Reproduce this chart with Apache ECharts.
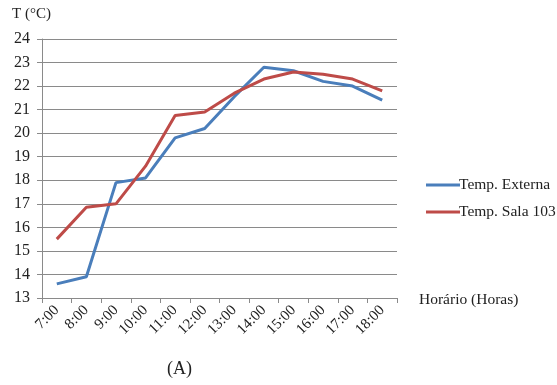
<!DOCTYPE html>
<html>
<head>
<meta charset="utf-8">
<script src="https://cdn.jsdelivr.net/npm/echarts@6/dist/echarts.min.js"></script>
<style>
  html, body { margin: 0; padding: 0; background: #fff; }
  #chart { width: 557px; height: 385px; }
</style>
</head>
<body>
<div id="chart"></div>
<script>
// Hourly temperature readings: outside air vs. room 103
const hours = ['7:00', '8:00', '9:00', '10:00', '11:00', '12:00', '13:00', '14:00', '15:00', '16:00', '17:00', '18:00'];
const tempExterna = [13.6, 13.9, 17.9, 18.1, 19.8, 20.2, 21.55, 22.8, 22.65, 22.2, 22.0, 21.4];
const tempSala103 = [15.5, 16.85, 17.0, 18.6, 20.75, 20.9, 21.7, 22.3, 22.6, 22.5, 22.3, 21.8];
const seriesNames = ['Temp. Externa', 'Temp. Sala 103'];

const serif = '"Liberation Serif", "DejaVu Serif", serif';
const gridColor = '#8a8a8a';

const chart = echarts.init(document.getElementById('chart'), null, { renderer: 'canvas' });
chart.setOption({
  animation: false,
  backgroundColor: '#ffffff',
  textStyle: { fontFamily: serif },
  grid: { left: 42, right: 160, top: 39, bottom: 87, containLabel: false },
  legend: {
    data: seriesNames,
    orient: 'vertical',
    left: 421,
    top: 172,
    itemWidth: 34,
    itemHeight: 3,
    itemGap: 11,
    icon: 'rect',
    textStyle: { fontFamily: serif, fontSize: 15.5, color: '#222', padding: [0, 0, 0, -6] }
  },
  graphic: [
    {
      type: 'text', left: 12, top: 7,
      style: { text: 'T (°C)', font: '15px ' + serif, fill: '#222' }
    },
    {
      type: 'text', left: 419, top: 292,
      style: { text: 'Horário (Horas)', font: '15.5px ' + serif, fill: '#222' }
    },
    {
      type: 'text', left: 167, top: 360,
      style: { text: '(A)', font: '18px ' + serif, fill: '#222' }
    }
  ],
  xAxis: {
    type: 'category',
    data: hours,
    boundaryGap: true,
    axisLine: { lineStyle: { color: gridColor, width: 1 } },
    axisTick: { show: true, length: 5, lineStyle: { color: gridColor } },
    axisLabel: {
      rotate: 45,
      margin: 10,
      interval: 0,
      fontFamily: serif,
      fontSize: 15,
      color: '#222'
    },
    splitLine: { show: false }
  },
  yAxis: {
    type: 'value',
    min: 13,
    max: 24,
    interval: 1,
    axisLine: { show: true, lineStyle: { color: gridColor, width: 1 } },
    axisTick: { show: true, length: 5, lineStyle: { color: gridColor } },
    axisLabel: { margin: 12, fontFamily: serif, fontSize: 16, color: '#222' },
    splitLine: { show: true, lineStyle: { color: gridColor, width: 1 } }
  },
  series: [
    {
      name: seriesNames[0],
      type: 'line',
      data: tempExterna,
      symbol: 'none',
      lineStyle: { color: '#4a7ebb', width: 3 },
      itemStyle: { color: '#4a7ebb' },
      z: 2
    },
    {
      name: seriesNames[1],
      type: 'line',
      data: tempSala103,
      symbol: 'none',
      lineStyle: { color: '#be4b48', width: 3 },
      itemStyle: { color: '#be4b48' },
      z: 3
    }
  ]
});
</script>
</body>
</html>
